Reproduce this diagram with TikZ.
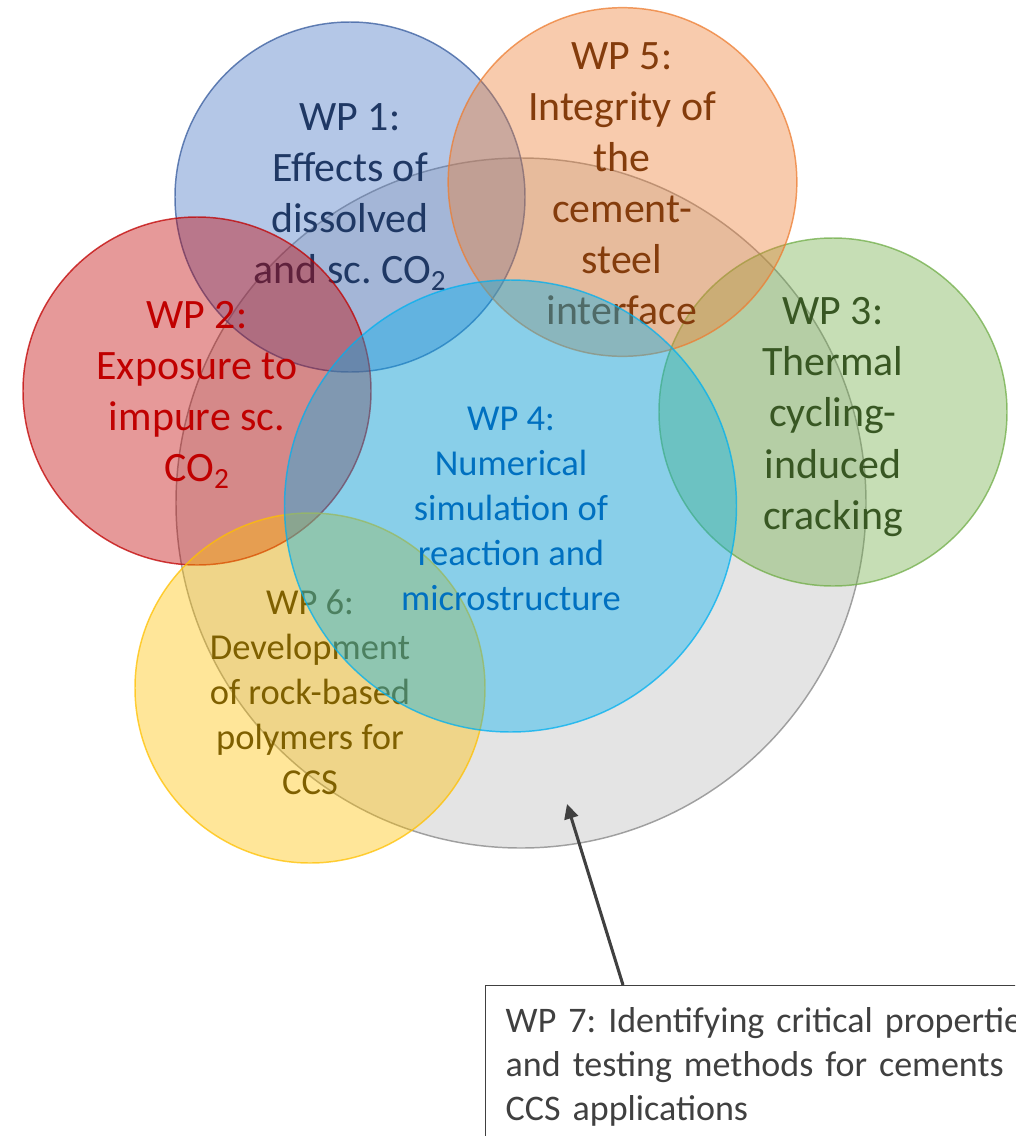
\documentclass[tikz,border=0pt]{standalone}
\usepackage{fontspec}
\setmainfont{Carlito}
\usetikzlibrary{arrows.meta}
\definecolor{cblue}{HTML}{4472C4}
\definecolor{corange}{HTML}{ED7D31}
\definecolor{cred}{HTML}{C00000}
\definecolor{cgreen}{HTML}{70AD47}
\definecolor{ccyan}{HTML}{00B0F0}
\definecolor{cyellow}{HTML}{FFC000}
\definecolor{cgray}{HTML}{A6A6A6}
\definecolor{tblue}{HTML}{1F3864}
\definecolor{torange}{HTML}{843C0C}
\definecolor{tred}{HTML}{C00000}
\definecolor{tgreen}{HTML}{385723}
\definecolor{tcyan}{HTML}{0070C0}
\definecolor{tyellow}{HTML}{7F6000}
\definecolor{tgray}{HTML}{404040}
\tikzset{
  wpcircle/.style={circle, inner sep=0pt, minimum size=#1, line width=1.1pt, fill opacity=0.4, draw opacity=0.75},
  bigtext/.style={align=center, font=\fontsize{31.4}{38.3}\selectfont\frenchspacing, inner sep=0pt},
  midtext/.style={align=center, font=\fontsize{27.4}{33.75}\selectfont\frenchspacing, inner sep=0pt},
  boxtext/.style={draw=tgray, line width=1.1pt, align=left, text=tgray, font=\fontsize{27}{33}\selectfont\frenchspacing, anchor=north west, inner xsep=15pt, inner ysep=16pt, text width=460pt},
  pointer/.style={draw=tgray, line width=2.3pt, -{Triangle[length=11pt, width=10.5pt]}}
}
\begin{document}
\frenchspacing
\begin{tikzpicture}[x=0.75pt, y=-0.75pt]
\useasboundingbox (0,0) rectangle (1015,1136);
\clip (0,0) rectangle (1015,1136);
% WP7 gray
\node[wpcircle=517.5pt, fill=cgray, draw=cgray!80!black, fill opacity=0.3] (wp7) at (521,503) {};
% WP3 green
\node[wpcircle=261pt, fill=cgreen, draw=cgreen] (wp3) at (833,412) {};
\node[bigtext, text=tgreen] (wp3t) at (833,417) {WP 3:\\Thermal\\cycling-\\induced\\cracking};
% WP1 blue
\node[wpcircle=262.5pt, fill=cblue, draw=cblue!80!black] (wp1) at (350,197) {};
\node[bigtext, text=tblue] (wp1t) at (350,197) {WP 1:\\Effects of\\dissolved\\and sc. CO\textsubscript{2}};
% WP5 orange
\node[wpcircle=261.5pt, fill=corange, draw=corange] (wp5) at (622.5,182) {};
\node[bigtext, text=torange] (wp5t) at (622,184) {WP 5:\\Integrity of\\the\\cement-\\steel\\interface};
% WP2 red
\node[wpcircle=261pt, fill=cred, draw=cred] (wp2) at (197,391) {};
\node[bigtext, text=tred] (wp2t) at (197,395) {WP 2:\\Exposure to\\impure sc.\\CO\textsubscript{2}};
% WP6 yellow
\node[wpcircle=262.5pt, fill=cyellow, draw=cyellow] (wp6) at (310,688) {};
\node[midtext, text=tyellow] (wp6t) at (310,692) {WP 6:\\Development\\of rock-based\\polymers for\\CCS};
% WP4 cyan
\node[wpcircle=339pt, fill=ccyan, draw=ccyan] (wp4) at (510.5,506) {};
\node[midtext, text=tcyan] (wp4t) at (511,509) {WP 4:\\Numerical\\simulation of\\reaction and\\microstructure};
% WP7 box
\node[boxtext] (wp7box) at (485,985) {WP 7: Identifying critical properties\\and testing methods for cements\\CCS applications};
\coordinate (arrowstart) at (623,985);
\coordinate (arrowtip) at (567,804);
\draw[pointer] (arrowstart) -- (arrowtip);
\end{tikzpicture}
\end{document}
